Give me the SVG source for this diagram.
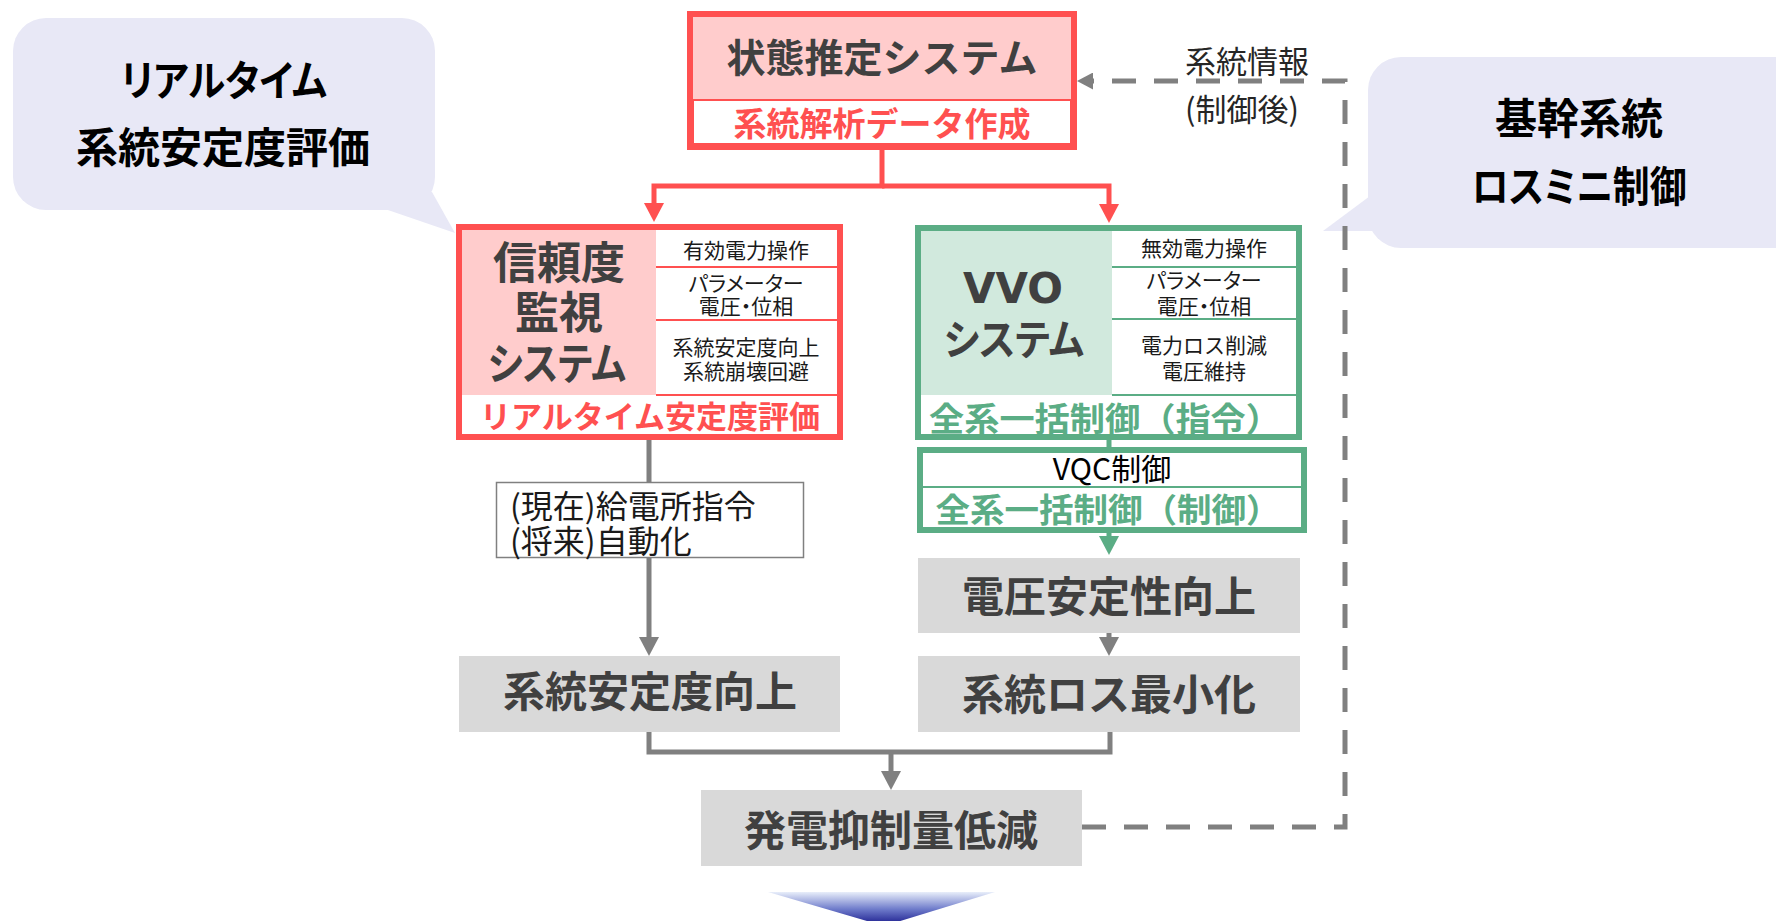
<svg xmlns="http://www.w3.org/2000/svg" width="1776" height="921" viewBox="0 0 1776 921">
<defs>
<style>
text{font-family:"Noto Sans CJK JP","Noto Sans",sans-serif}
.b{font-weight:700}
.mid{text-anchor:middle}
.dark{fill:#404040}
.red{fill:#FF5050}
.grn{fill:#5BAD85}
.p{font-feature-settings:"palt"}
.cell{font-size:21px;fill:#1a1a1a;text-anchor:middle}
.big{font-size:42px;font-weight:700;fill:#404040;text-anchor:middle}
.bub{fill:#E8E8F6}
.bubt{font-size:42px;font-weight:700;fill:#000;text-anchor:middle}
.gbox{fill:#D9D9D9}
.cr{fill:none;stroke:#FF5050;stroke-width:5}
.cg{fill:none;stroke:#808080;stroke-width:5}
.cgr{fill:none;stroke:#5BAD85;stroke-width:5}
.cd{fill:none;stroke:#808080;stroke-width:5;stroke-dasharray:24 18}
</style>
<marker id="ar" markerUnits="userSpaceOnUse" markerWidth="20" markerHeight="20" viewBox="0 0 19 20" refX="0" refY="10" orient="auto"><path d="M0,0L19,10L0,20z" fill="#FF5050"/></marker>
<marker id="ag" markerUnits="userSpaceOnUse" markerWidth="20" markerHeight="20" viewBox="0 0 19 20" refX="0" refY="10" orient="auto"><path d="M0,0L19,10L0,20z" fill="#808080"/></marker>
<marker id="agr" markerUnits="userSpaceOnUse" markerWidth="20" markerHeight="20" viewBox="0 0 19 20" refX="0" refY="10" orient="auto"><path d="M0,0L19,10L0,20z" fill="#5BAD85"/></marker>
<marker id="ad" markerUnits="userSpaceOnUse" markerWidth="17" markerHeight="17" viewBox="0 0 16 17" refX="0" refY="8.5" orient="auto"><path d="M0,0L16,8.5L0,17z" fill="#808080"/></marker>
<linearGradient id="grad" x1="0" y1="892" x2="0" y2="926" gradientUnits="userSpaceOnUse"><stop offset="0" stop-color="#E8EEFA"/><stop offset="0.5" stop-color="#6F7CCB"/><stop offset="1" stop-color="#141488"/></linearGradient>
</defs>

<g id="bubble-left">
<rect x="13" y="18" width="422" height="192" rx="33" class="bub"/>
<polygon points="385,209 455,233 432,192 412,192" class="bub"/>
<text x="224" y="96" class="bubt p" textLength="206" lengthAdjust="spacingAndGlyphs">リアルタイム</text>
<text x="223" y="163" class="bubt">系統安定度評価</text>
</g>

<g id="bubble-right">
<rect x="1368" y="57" width="440" height="191" rx="33" class="bub"/>
<polygon points="1370,196 1323,231 1385,231 1385,196" class="bub"/>
<text x="1579" y="134" class="bubt">基幹系統</text>
<text x="1579" y="202" class="bubt p" textLength="215" lengthAdjust="spacingAndGlyphs">ロスミニ制御</text>
</g>

<g id="connectors">
<path class="cr" d="M882,150V186H654V203" marker-end="url(#ar)"/>
<path class="cr" d="M882,186H1109V204" marker-end="url(#ar)"/>
<path class="cg" d="M649,440V637" marker-end="url(#ag)"/>
<path class="cgr" d="M1109,440V447"/>
<path class="cgr" d="M1109,533V536" marker-end="url(#agr)"/>
<path class="cg" d="M1109,633V637" marker-end="url(#ag)"/>
<path class="cg" d="M649,732V752H1110V732"/>
<path class="cg" d="M891,752V771" marker-end="url(#ag)"/>
<path class="cd" d="M1082,827H1345V81H1093" marker-end="url(#ad)"/>
</g>

<g id="label-command">
<rect x="496.5" y="482.5" width="307" height="75" fill="#fff" stroke="#808080" stroke-width="1.5"/>
<text x="510" y="518" font-size="32" fill="#1a1a1a">(現在)給電所指令</text>
<text x="510" y="553" font-size="32" fill="#1a1a1a">(将来)自動化</text>
</g>

<g id="label-info">
<text x="1185" y="73" font-size="31" fill="#262626">系統情報</text>
<text x="1185" y="121" font-size="31" fill="#262626">(制御後)</text>
</g>

<g id="state-estimation">
<rect x="690" y="14" width="384" height="133" fill="#FFCCCC" stroke="#FF5050" stroke-width="6"/>
<rect x="693" y="100" width="378" height="44" fill="#fff" stroke="#FF5050" stroke-width="2"/>
<text x="882" y="72" font-size="39" class="b mid dark">状態推定システム</text>
<text x="882" y="136" font-size="33" class="b mid red">系統解析データ作成</text>
</g>

<g id="reliability-monitor">
<rect x="459" y="227" width="381" height="210" fill="#fff" stroke="#FF5050" stroke-width="6"/>
<rect x="462" y="230" width="194" height="165" fill="#FFCCCC"/>
<path d="M656,267H837M656,320H837M656,395H837" stroke="#FF5050" stroke-width="2" fill="none"/>
<text x="559" y="279" font-size="44" class="b mid dark">信頼度</text>
<text x="559" y="329" font-size="44" class="b mid dark">監視</text>
<text x="557" y="380" font-size="44" class="b mid dark p" textLength="138" lengthAdjust="spacingAndGlyphs">システム</text>
<text x="746" y="258" class="cell">有効電力操作</text>
<text x="746" y="291" class="cell p">パラメーター</text>
<text x="746" y="314" class="cell p">電圧・位相</text>
<text x="746" y="355" class="cell">系統安定度向上</text>
<text x="746" y="379" class="cell">系統崩壊回避</text>
<text x="650" y="428" font-size="31" class="b mid red">リアルタイム安定度評価</text>
</g>

<g id="vvo-system">
<rect x="918" y="228" width="381" height="209" fill="#fff" stroke="#5BAD85" stroke-width="6"/>
<rect x="921" y="231" width="191" height="164" fill="#D1E9DD"/>
<path d="M1112,267H1296M1112,319H1296M1112,395H1296" stroke="#5BAD85" stroke-width="2" fill="none"/>
<text x="1013" y="303" font-size="42" class="b mid dark" style="font-family:'DejaVu Sans',Verdana,sans-serif">VVO</text>
<text x="1014" y="355" font-size="42" class="b mid dark p" textLength="140" lengthAdjust="spacingAndGlyphs">システム</text>
<text x="1204" y="256" class="cell">無効電力操作</text>
<text x="1204" y="288" class="cell p">パラメーター</text>
<text x="1204" y="314" class="cell p">電圧・位相</text>
<text x="1204" y="353" class="cell">電力ロス削減</text>
<text x="1204" y="379" class="cell">電圧維持</text>
<text x="1105" y="431" font-size="33" class="b mid grn" textLength="352" lengthAdjust="spacingAndGlyphs">全系一括制御（指令）</text>
</g>

<g id="vqc-control">
<rect x="920" y="450" width="384" height="80" fill="#fff" stroke="#5BAD85" stroke-width="6"/>
<path d="M923,487H1301" stroke="#5BAD85" stroke-width="2" fill="none"/>
<text x="1112" y="480" font-size="30" class="mid" fill="#000">VQC制御</text>
<text x="1108" y="522" font-size="33" class="b mid grn" textLength="345" lengthAdjust="spacingAndGlyphs">全系一括制御（制御）</text>
</g>

<g id="stability-up">
<rect x="459" y="656" width="381" height="76" class="gbox"/>
<text x="650" y="707" class="big">系統安定度向上</text>
</g>

<g id="voltage-stability">
<rect x="918" y="558" width="382" height="75" class="gbox"/>
<text x="1109" y="612" class="big">電圧安定性向上</text>
</g>

<g id="loss-min">
<rect x="918" y="656" width="382" height="76" class="gbox"/>
<text x="1109" y="710" class="big">系統ロス最小化</text>
</g>

<g id="curtail-reduce">
<rect x="701" y="790" width="381" height="76" class="gbox"/>
<text x="891" y="846" class="big">発電抑制量低減</text>
</g>

<polygon id="down-arrow" points="768,892 995,892 884,926" fill="url(#grad)"/>
</svg>
